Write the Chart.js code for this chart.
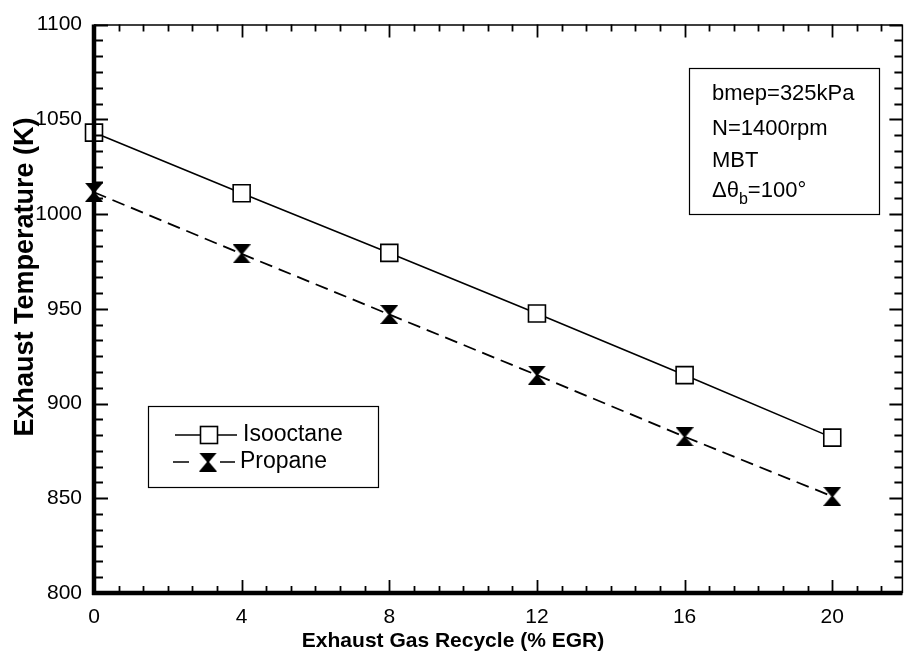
<!DOCTYPE html>
<html>
<head>
<meta charset="utf-8">
<title>Exhaust Temperature vs EGR</title>
<script src="https://cdn.jsdelivr.net/npm/chart.js@4.4.1/dist/chart.umd.min.js"></script>
<style>
  html, body { margin: 0; padding: 0; background: #fff; overflow: hidden; }
  #wrap { width: 916px; height: 658px; }
</style>
</head>
<body>
<div id="wrap"><canvas id="egrChart" width="916" height="658"></canvas></div>
<script>
// EGR levels (%) and exhaust temperatures (K)
const egr = [0, 4, 8, 12, 16, 20];
const isooctane = [1043, 1011, 979.5, 947.5, 915, 882];
const propane = [1011.5, 979, 947, 915, 882.5, 851];

const xTickValues = [0, 4, 8, 12, 16, 20];
const yTickValues = [800, 850, 900, 950, 1000, 1050, 1100];

const conditions = ['bmep=325kPa', 'N=1400rpm', 'MBT'];

const FONT = '"Liberation Sans", Arial, Helvetica, sans-serif';

// filled hourglass marker used for propane
function makeHourglass(w, h) {
    const c = document.createElement('canvas');
    c.width = w;
    c.height = h;
    const g = c.getContext('2d');
    g.fillStyle = '#000';
    g.beginPath();
    g.moveTo(0, 0); g.lineTo(w, 0); g.lineTo(w / 2 + 1, h / 2); g.lineTo(w / 2 - 1, h / 2); g.closePath();
    g.moveTo(0, h); g.lineTo(w, h); g.lineTo(w / 2 + 1, h / 2); g.lineTo(w / 2 - 1, h / 2); g.closePath();
    g.fill();
    return c;
}
const hourglass = makeHourglass(18, 19);

function toPoints(xs, ys) {
    return xs.map((v, i) => ({ x: v, y: ys[i] }));
}

// box frame with inward ticks on all four sides
const axesFrame = {
    id: 'axesFrame',
    afterDatasetsDraw(chart) {
        const { ctx, chartArea: a, scales: { x, y } } = chart;
        ctx.save();
        ctx.strokeStyle = '#000';
        ctx.lineWidth = 1.8;
        ctx.beginPath();
        const xStep = 4 / 6;
        for (let i = 0; ; i++) {
            const v = i * xStep;
            if (v > x.max + 1e-6) break;
            const px = Math.round(x.getPixelForValue(v)) + 0.5;
            const major = i % 6 === 0;
            ctx.moveTo(px, a.bottom); ctx.lineTo(px, a.bottom - (major ? 13 : 7));
            ctx.moveTo(px, a.top); ctx.lineTo(px, a.top + (major ? 13 : 7));
        }
        const yStep = 50 / 6;
        for (let i = 0; i <= 36; i++) {
            const v = 800 + i * yStep;
            const py = Math.round(y.getPixelForValue(v)) + 0.5;
            const major = i % 6 === 0;
            ctx.moveTo(a.left, py); ctx.lineTo(a.left + (major ? 14 : 9), py);
            ctx.moveTo(a.right, py); ctx.lineTo(a.right - (major ? 13 : 8), py);
        }
        ctx.stroke();

        // thin top/right borders, heavy left/bottom axes
        ctx.lineWidth = 1.5;
        ctx.beginPath();
        ctx.moveTo(a.left, a.top + 0.5); ctx.lineTo(a.right, a.top + 0.5);
        ctx.moveTo(a.right, a.top); ctx.lineTo(a.right, a.bottom);
        ctx.stroke();
        ctx.lineWidth = 4.5;
        ctx.beginPath();
        ctx.moveTo(a.left, a.top); ctx.lineTo(a.left, a.bottom + 2);
        ctx.moveTo(a.left - 2, a.bottom); ctx.lineTo(a.right, a.bottom);
        ctx.stroke();
        ctx.restore();
    }
};

// legend box, operating conditions box and axis titles
const notes = {
    id: 'notes',
    afterDraw(chart) {
        const { ctx } = chart;
        ctx.save();
        ctx.fillStyle = '#000';
        ctx.strokeStyle = '#000';

        // axis titles
        ctx.font = 'bold 21px ' + FONT;
        ctx.textAlign = 'center';
        ctx.textBaseline = 'alphabetic';
        ctx.fillText('Exhaust Gas Recycle (% EGR)', 453, 647);
        ctx.save();
        ctx.translate(33, 277);
        ctx.rotate(-Math.PI / 2);
        ctx.font = 'bold 27px ' + FONT;
        ctx.fillText('Exhaust Temperature (K)', 0, 0);
        ctx.restore();

        // legend
        ctx.lineWidth = 1.2;
        ctx.strokeRect(148.5, 406.5, 230, 81);
        const ds = chart.data.datasets;
        ctx.lineWidth = 1.6;
        ctx.beginPath();
        ctx.moveTo(175, 435); ctx.lineTo(237, 435);
        ctx.stroke();
        ctx.fillStyle = '#fff';
        ctx.fillRect(200.5, 426.5, 17, 17);
        ctx.strokeRect(200.5, 426.5, 17, 17);
        ctx.beginPath();
        ctx.moveTo(173, 462); ctx.lineTo(189, 462);
        ctx.moveTo(220, 462); ctx.lineTo(235, 462);
        ctx.stroke();
        ctx.drawImage(hourglass, 208 - 9, 462 - 9.5);
        ctx.fillStyle = '#000';
        ctx.font = '23px ' + FONT;
        ctx.textAlign = 'left';
        ctx.textBaseline = 'middle';
        ctx.fillText(ds[0].label, 243, 435);
        ctx.fillText(ds[1].label, 240, 462);

        // operating conditions
        ctx.font = '22px ' + FONT;
        ctx.lineWidth = 1.2;
        ctx.strokeRect(689.5, 68.5, 190, 146);
        ctx.textBaseline = 'alphabetic';
        const baselines = [100, 135, 167];
        conditions.forEach((t, i) => ctx.fillText(t, 712, baselines[i]));
        let cx = 712;
        ctx.fillText('\u0394\u03b8', cx, 197);
        cx += ctx.measureText('\u0394\u03b8').width;
        ctx.font = '16px ' + FONT;
        ctx.fillText('b', cx, 204);
        cx += ctx.measureText('b').width;
        ctx.font = '22px ' + FONT;
        ctx.fillText('=100\u00b0', cx, 197);
        ctx.restore();
    }
};

const ctx = document.getElementById('egrChart').getContext('2d');
const chart = new Chart(ctx, {
    type: 'line',
    data: {
        datasets: [
            {
                label: 'Isooctane',
                data: toPoints(egr, isooctane),
                borderColor: '#000',
                borderWidth: 1.6,
                pointStyle: 'rect',
                pointRadius: 12,
                pointBorderWidth: 1.6,
                pointBackgroundColor: '#fff',
                pointBorderColor: '#000',
                tension: 0,
                clip: false
            },
            {
                label: 'Propane',
                data: toPoints(egr, propane),
                borderColor: '#000',
                borderWidth: 1.8,
                borderDash: [13, 7],
                pointStyle: hourglass,
                pointRadius: 9,
                tension: 0,
                clip: false
            }
        ]
    },
    options: {
        responsive: false,
        animation: false,
        devicePixelRatio: 1,
        layout: { padding: { top: 22, right: 2, left: 0, bottom: 0 } },
        plugins: {
            legend: { display: false },
            tooltip: { enabled: false }
        },
        scales: {
            x: {
                type: 'linear',
                min: 0,
                max: 21.9,
                afterBuildTicks: s => { s.ticks = xTickValues.map(v => ({ value: v })); },
                afterFit: s => { s.height = 65; },
                grid: { display: false, drawTicks: false },
                border: { display: false },
                ticks: { padding: 12, color: '#000', maxRotation: 0, autoSkip: false, callback: v => String(v), font: { family: FONT, size: 21 } }
            },
            y: {
                type: 'linear',
                min: 800,
                max: 1100,
                afterBuildTicks: s => { s.ticks = yTickValues.map(v => ({ value: v })); },
                afterFit: s => { s.width = 94; },
                grid: { display: false, drawTicks: false },
                border: { display: false },
                ticks: { padding: 12, color: '#000', autoSkip: false, callback: v => String(v), font: { family: FONT, size: 21 } }
            }
        }
    },
    plugins: [axesFrame, notes]
});
</script>
</body>
</html>
